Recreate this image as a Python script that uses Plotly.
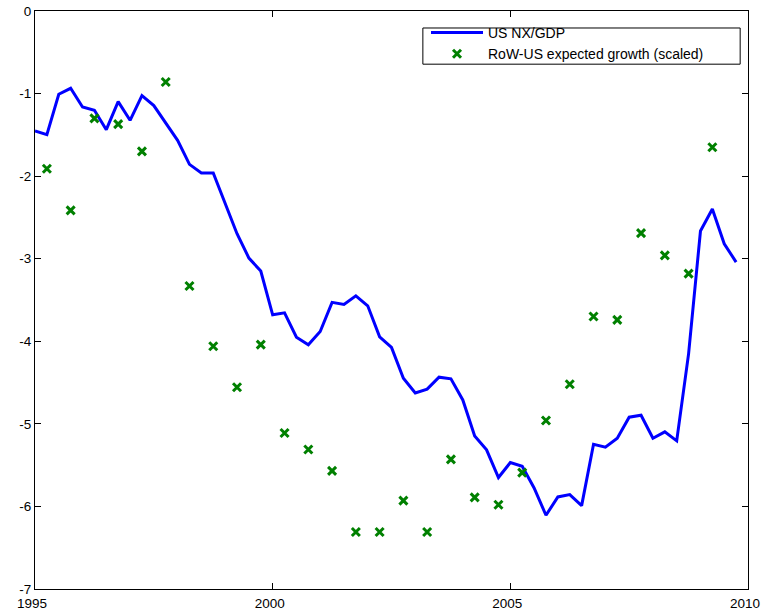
import plotly.graph_objects as go

# US NX/GDP, quarterly 1995Q1 .. 2009Q4
nx_start = 1995.0
nx_values = [
    -1.453, -1.497, -1.008, -0.936, -1.162, -1.202, -1.437, -1.097,
    -1.324, -1.025, -1.146, -1.364, -1.566, -1.857, -1.962, -1.962,
    -2.334, -2.697, -2.992, -3.150, -3.679, -3.655, -3.950, -4.043,
    -3.881, -3.529, -3.554, -3.449, -3.570, -3.946, -4.075, -4.447,
    -4.625, -4.580, -4.435, -4.455, -4.710, -5.146, -5.315, -5.650,
    -5.469, -5.513, -5.776, -6.107, -5.885, -5.857, -5.990, -5.247,
    -5.283, -5.174, -4.919, -4.895, -5.174, -5.097, -5.206, -4.152,
    -2.665, -2.398, -2.819, -3.041,
]
nx_dates = [nx_start + 0.25 * i for i in range(len(nx_values))]

# RoW-US expected growth (scaled), semiannual from 1995.25
gr_start = 1995.25
gr_values = [
    -1.91, -2.415, -1.30, -1.37, -1.70, -0.86, -3.33, -4.06,
    -4.556, -4.04, -5.11, -5.31, -5.57, -6.31, -6.31, -5.93,
    -6.31, -5.43, -5.89, -5.98, -5.59, -4.96, -4.52, -3.70,
    -3.74, -2.69, -2.96, -3.18, -1.65,
]
gr_dates = [gr_start + 0.5 * i for i in range(len(gr_values))]

x_ticks = [1995, 2000, 2005, 2010]
y_ticks = [0, -1, -2, -3, -4, -5, -6, -7]

FONT = "Liberation Sans, Arial, Helvetica, sans-serif"

fig = go.Figure()
fig.add_trace(go.Scatter(
    x=nx_dates, y=nx_values, mode="lines", name="US NX/GDP",
    line=dict(color="rgb(0,0,255)", width=3),
))
fig.add_trace(go.Scatter(
    x=gr_dates, y=gr_values, mode="markers", name="RoW-US expected growth (scaled)",
    marker=dict(symbol="x-thin-open", size=8, color="rgb(0,128,0)",
                line=dict(color="rgb(0,128,0)", width=3)),
))

axis_common = dict(
    showline=True, linecolor="black", linewidth=1, mirror="ticks",
    ticks="inside", ticklen=6, tickcolor="black", tickwidth=1,
    showgrid=False, zeroline=False, automargin=False,
    ticklabeloverflow="allow",
    tickfont=dict(family=FONT, size=13.5, color="black"),
)

fig.update_layout(
    width=761, height=615,
    margin=dict(l=35, r=13, t=11, b=26),
    paper_bgcolor="white", plot_bgcolor="white",
    font=dict(family=FONT, color="black"),
    xaxis=dict(range=[1995, 2010], tickvals=x_ticks,
               ticktext=[str(v) for v in x_ticks],
               ticklabelshift=-3, ticklabelstandoff=2, **axis_common),
    yaxis=dict(range=[-7, 0], tickvals=y_ticks,
               ticktext=[str(v) for v in y_ticks], **axis_common),
    legend=dict(
        x=0.5484, y=0.9896, xanchor="left", yanchor="top",
        bgcolor="rgba(0,0,0,0)", borderwidth=0,
        font=dict(family=FONT, size=14, color="black"),
        tracegroupgap=0, itemwidth=52,
    ),
    shapes=[dict(
        type="rect", xref="paper", yref="paper",
        x0=0.544, x1=0.989, y0=0.908, y1=0.9706,
        line=dict(color="black", width=1), fillcolor="white", layer="below",
    )],
    showlegend=True,
)

fig.write_html(
    "out.html",
    config={"displayModeBar": False},
    post_script="document.body.style.margin='0';document.body.style.overflow='hidden';",
)
